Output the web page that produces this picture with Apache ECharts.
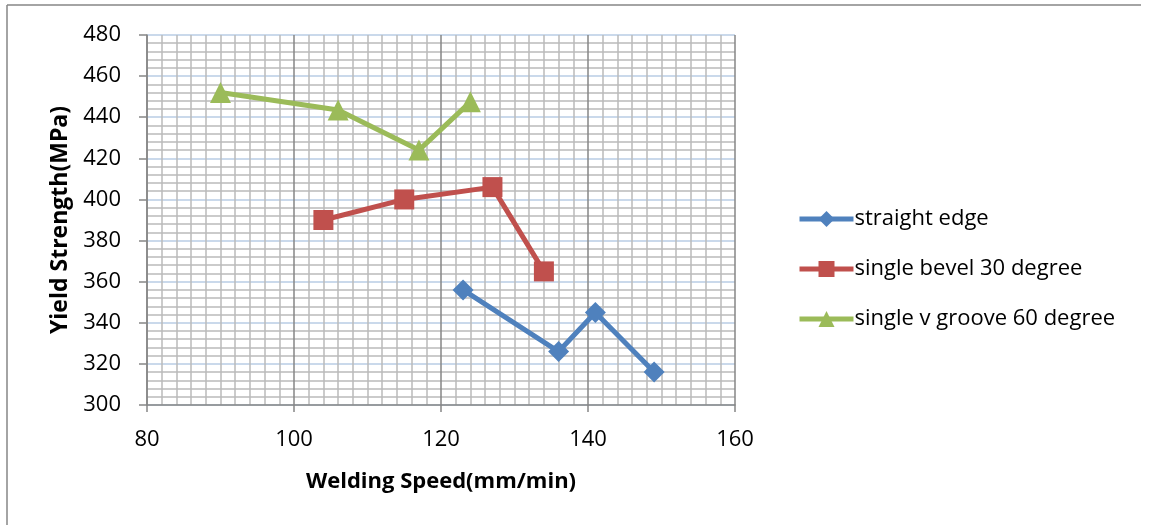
<!DOCTYPE html>
<html>
<head>
<meta charset="utf-8">
<script src="https://cdn.jsdelivr.net/npm/echarts@6/dist/echarts.min.js"></script>
<style>
  html, body { margin: 0; padding: 0; background: #fff; }
  #chart { width: 1149px; height: 525px; }
</style>
</head>
<body>
<div id="chart"></div>
<script>
// Welding speed (mm/min) vs yield strength (MPa) for three joint preparations
const seriesNames = ['straight edge', 'single bevel 30 degree', 'single v groove 60 degree'];

const straightSpeed = [123, 136, 141, 149];
const straightYield = [356, 326, 345, 316];

const bevelSpeed = [104, 115, 127, 134];
const bevelYield = [390, 400, 406, 365];

const grooveSpeed = [90, 106, 117, 124];
const grooveYield = [452, 443.5, 424, 447.5];

const xTicks = { min: 80, max: 160, step: 20 };
const yTicks = { min: 300, max: 480, step: 20 };

const pair = (xs, ys) => xs.map((x, i) => [x, ys[i]]);

const FONT = '"Open Sans", Lato, sans-serif';
const colors = ['#4F81BD', '#C0504D', '#9BBB59'];
const symbols = ['diamond', 'rect', 'triangle'];
const sizes = [21, 20, 21];
const datasets = [
  pair(straightSpeed, straightYield),
  pair(bevelSpeed, bevelYield),
  pair(grooveSpeed, grooveYield)
];

const chart = echarts.init(document.getElementById('chart'), null, { renderer: 'canvas' });

chart.setOption({
  animation: false,
  backgroundColor: '#ffffff',
  textStyle: { fontFamily: FONT },
  graphic: [
    { type: 'line', shape: { x1: 7, y1: 5, x2: 7, y2: 525 }, style: { stroke: '#868686', lineWidth: 1.5 } },
    { type: 'line', shape: { x1: 7, y1: 5, x2: 1141, y2: 5 }, style: { stroke: '#868686', lineWidth: 1.5 } }
  ],
  grid: { left: 147, top: 35, right: 414, bottom: 120, containLabel: false },
  legend: {
    orient: 'vertical',
    left: 792,
    top: 203,
    itemWidth: 54,
    itemHeight: 20,
    itemGap: 28,
    textStyle: { fontFamily: FONT, fontSize: 22, color: '#000', padding: [0, 0, 0, -4] },
    lineStyle: { width: 5 },
    data: seriesNames
  },
  xAxis: {
    type: 'value',
    min: xTicks.min,
    max: xTicks.max,
    interval: xTicks.step,
    name: 'Welding Speed(mm/min)',
    nameLocation: 'middle',
    nameGap: 66,
    nameTextStyle: { fontFamily: FONT, fontSize: 22, fontWeight: 'bold', color: '#000' },
    axisLine: { lineStyle: { color: '#868686', width: 1.5 } },
    axisTick: { show: true, length: 7, lineStyle: { color: '#868686', width: 1.5 } },
    axisLabel: { fontFamily: FONT, fontSize: 22, color: '#000', margin: 24 },
    splitLine: { show: true, lineStyle: { color: '#868686', width: 1.5 } },
    minorTick: { show: false, splitNumber: 10 },
    minorSplitLine: { show: true, lineStyle: { color: '#bababa', width: 1.5 } }
  },
  yAxis: {
    type: 'value',
    min: yTicks.min,
    max: yTicks.max,
    interval: yTicks.step,
    name: 'Yield Strength(MPa)',
    nameLocation: 'middle',
    nameGap: 49,
    nameTextStyle: { fontFamily: FONT, fontSize: 23, fontWeight: 'bold', color: '#000' },
    axisLine: { show: true, lineStyle: { color: '#868686', width: 1.5 } },
    axisTick: { show: true, length: 8, lineStyle: { color: '#868686', width: 1.5 } },
    axisLabel: { fontFamily: FONT, fontSize: 22, color: '#000', margin: 26 },
    splitLine: { show: true, lineStyle: { color: '#b9cde5', width: 1.5 } },
    minorTick: { show: false, splitNumber: 5 },
    minorSplitLine: { show: true, lineStyle: { color: '#bababa', width: 1.5 } }
  },
  series: datasets.map((d, i) => ({
    name: seriesNames[i],
    type: 'line',
    data: d,
    symbol: symbols[i],
    symbolSize: sizes[i],
    showAllSymbol: true,
    lineStyle: { color: colors[i], width: 5 },
    itemStyle: { color: colors[i] },
    z: 3
  }))
});
</script>
</body>
</html>
